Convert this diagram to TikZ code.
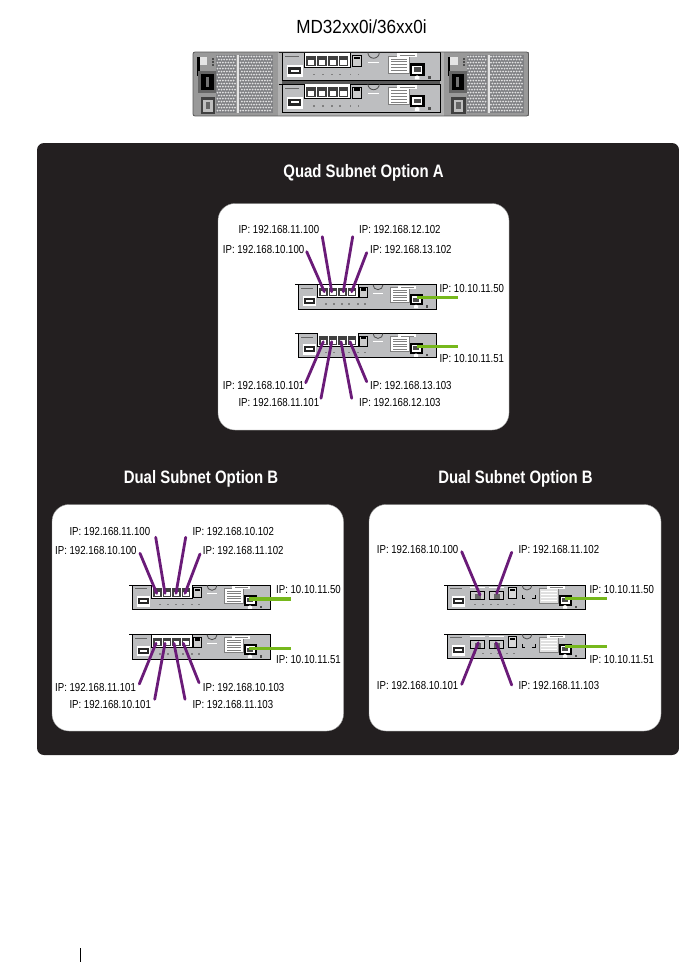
\documentclass[tikz,border=0pt]{standalone}
\usepackage{fontspec}
\usepackage{xcolor}
\usetikzlibrary{calc}
\newfontfamily\labelfont[FakeStretch=0.83]{Liberation Sans}
\newfontfamily\titlefont[FakeStretch=0.90]{Liberation Sans}
\definecolor{panelblack}{HTML}{231F20}
\definecolor{cablepurple}{HTML}{6A1B78}
\definecolor{cablegreen}{HTML}{76B81C}
\definecolor{bodygray}{HTML}{BDBEC0}
\definecolor{ventgray}{HTML}{808184}
\tikzset{
  every pic/.style={transform shape},
  iplabel/.style={anchor=west, inner sep=0pt, text=black, font=\labelfont\fontsize{11.6}{13}\selectfont},
  heading/.style={inner sep=0pt, text=white, font=\labelfont\bfseries\fontsize{18}{20}\selectfont},
  whitepanel/.style={fill=white, draw=black!40, line width=0.4pt, rounded corners=17pt},
  datacable/.style={line width=2.8pt, color=cablepurple, line cap=round},
  mgmtcable/.style={line width=3.4pt, color=cablegreen},
  % controller drawn from the top left corner of its body
  ctrlbody/.pic={
    \fill[bodygray] (0,0) rectangle (138,24.5);
    \draw[black, line width=0.9pt] (-3,0) -- (138,0) -- (138,24.5) -- (0,24.5) -- (0,0);
    % tag
    \draw[black!60, line width=0.8pt] (3,3.5) -- (15,3.5);
    % USB
    \fill[white] (4.5,11) rectangle (18,21.5);
    \fill[black!85] (5.5,13) rectangle (17,19);
    \fill[white] (7.5,15) rectangle (15,17);
    % half round handle
    \draw[black!70, line width=0.8pt] (75,0) arc[start angle=180, end angle=0, radius=5];
    % LED row
    \foreach \x in {27,35,43,50,59,66} {\fill[black!50] (\x,18.5) rectangle +(1.5,1.5);}
    % management block
    \fill[white] (92.5,3) rectangle (111,18);
    \draw[black!50, line width=0.5pt] (92.5,3) rectangle (111,18);
    \foreach \y in {5.5,8,10.5,13,15.5} {\draw[black!50, line width=0.5pt] (95,\y) -- (109,\y);}
    \fill[white] (100,0.8) rectangle (118,4);
    \draw[black!50, line width=0.5pt] (103,2.4) -- (116,2.4);
    % RJ45
    \fill[black] (111.5,9.5) rectangle (124.5,20.5);
    \fill[white] (113.5,11.5) rectangle (122.5,18.5);
    \fill[black!70] (115,13) rectangle (121,17);
    \fill[white] (116,21) -- (118,20) -- (120,21) -- (120,23.5) -- (116,23.5) -- cycle;
    \fill[black!70] (127.5,20.5) rectangle (130,23);
  },
  ctrlquad/.pic={
    \pic {ctrlbody};
    \draw[white, line width=1pt] (75,8.5) -- (85,8.5);
    \fill[white] (19.5,0) rectangle (60,13);
    \draw[black, line width=0.9pt] (19.5,0) -- (19.5,13) -- (60,13) -- (60,0);
    \foreach \x in {21,30.5,40,49.5} {\fill[black!75] (\x,3) rectangle +(8.5,8.5);
      \fill[white] ($(\x,3)+(1.5,3.5)$) rectangle +(5.5,4);}
    % small latch
    \fill[black!20] (61.5,2.5) rectangle (69,12.5);
    \draw[black, line width=0.7pt] (61.5,2.5) rectangle (69,12.5);
    \fill[black] (62.5,3.5) rectangle (68,6);
  },
  ctrldual/.pic={
    \pic {ctrlbody};
    % label corners
    \draw[black, line width=0.7pt] (75,10) -- (75,13) -- (78,13);
    \draw[black, line width=0.7pt] (85,13) -- (88,13) -- (88,10);
    % pale block
    \fill[black!12] (93,3.5) rectangle (110.5,17.5);
    \foreach \y in {6,9,12,15} {\draw[white, line width=0.6pt] (94,\y) -- (110,\y);}
    \foreach \x in {23,42} {\draw[white, line width=1pt] (\x,2.5) -- +(15,0);
      \fill[black] (\x,6) rectangle +(15,8.5);
      \fill[black!20] ($(\x,6)+(1.2,1.2)$) rectangle +(12.6,6.3);
      \fill[black!60] ($(\x,6)+(4.5,3)$) rectangle +(6,5);}
    % small latch
    \fill[black!15] (61.5,2.5) rectangle (69,13.5);
    \draw[black, line width=0.7pt] (61.5,2.5) rectangle (69,13.5);
    \fill[black] (62.5,3.5) rectangle (68,6);
  },
  % power supply of the enclosure
  psupack/.pic={
    \fill[black!40] (0,0) rectangle (85,64);
    \fill[ventgray] (23,3) rectangle (43,61);
    \fill[ventgray] (46,3) rectangle (80,61);
    \foreach \i in {0,...,6} \foreach \j in {0,...,18}
      {\fill[black!12] ({24.5+2.7*\i+1.3*mod(\j,2)},{4.5+3*\j}) circle (1);}
    \foreach \i in {0,...,11} \foreach \j in {0,...,18}
      {\fill[black!12] ({47.5+2.7*\i+1.3*mod(\j,2)},{4.5+3*\j}) circle (1);}
    \fill[black!10] (44,3) rectangle (46,61);
    \fill[black!10] (6,5) rectangle (14,13);
    \fill[black] (4,5) rectangle (6.5,24);
    \foreach \y in {6,9,12} {\fill[black!70] (19,\y) rectangle +(2,1.6);}
    \fill[black!60] (5,19) rectangle (23,41);
    \fill[black] (8,22) rectangle (20.5,38);
    \fill[black!55] (12.5,25) rectangle (15.5,35);
    \fill[black!75] (7.5,45) rectangle (22,62);
    \fill[black!25] (10,47.5) rectangle (19.5,59.5);
    \fill[black!60] (12.5,50) rectangle (17,57);
  },
}
\begin{document}
\begin{tikzpicture}[x=1pt,y=-1pt]
\useasboundingbox (0,0) rectangle (679,962);
% Title and enclosure
\node[inner sep=0pt, font=\titlefont\fontsize{19}{22}\selectfont] (enclosuretitle) at (361.5,27) {MD32xx0i/36xx0i};
\fill[black!30] (193,52) rectangle (528.5,116);
\pic at (193,52) {psupack};
\pic at (443.5,52) {psupack};
\fill[black!65] (282,80) rectangle (440,85);
\pic[scale=1.145] at (282,52.5) {ctrlquad};
\pic[scale=1.145] at (282,84) {ctrlquad};
\draw[black!65, line width=0.8pt, rounded corners=2pt] (193,52) rectangle (528.5,116);
% Dark panel
\fill[panelblack, rounded corners=7pt] (37,143) rectangle (679,755);
\node[heading] (quadtitle) at (363.5,173) {Quad Subnet Option A};
\node[heading] (dualtitleleft) at (201,479) {Dual Subnet Option B};
\node[heading] (dualtitleright) at (515.5,479) {Dual Subnet Option B};
% White panels
\draw[whitepanel] (218,203.5) rectangle (509,430);
\draw[whitepanel] (52,504.5) rectangle (343.5,731);
\draw[whitepanel] (369,504.5) rectangle (661,731);
% Controllers
\pic at (298,284.7) {ctrlquad};
\pic at (298,333.4) {ctrlquad};
\pic at (132,585.3) {ctrlquad};
\pic at (132,634.7) {ctrlquad};
\pic at (447,585) {ctrldual};
\pic at (447,634) {ctrldual};
% Data ports: name/text/label x/label y/free end/port end
\foreach \tagname/\iptext/\lx/\ly/\ex/\ey/\px/\py in {
  qa/192.168.10.100/222.7/249.3/306.7/251.7/324.3/291.7,
  qb/192.168.11.100/238.3/230/322.3/236.7/331.7/291.7,
  qc/192.168.12.102/359/230/352.7/236.7/343.3/291.7,
  qd/192.168.13.102/370/249.3/366.7/252.7/351.7/291.7,
  qe/192.168.10.101/222.7/385.7/305.7/382.7/323.3/341.7,
  qf/192.168.11.101/238.3/402.7/321/398.3/331.7/341.7,
  qg/192.168.12.103/359/402.7/351.7/398.3/341/341.7,
  qh/192.168.13.103/370/385.7/366.7/381.7/350/341.7,
  la/192.168.10.100/55/550.3/140/553.3/156.7/593.3,
  lb/192.168.11.100/69.3/531/155.7/537.3/165/593.3,
  lc/192.168.10.102/192.3/531/185.7/537.3/176/593.3,
  ld/192.168.11.102/202.7/550.3/200/554/185/593.3,
  le/192.168.11.101/55/687/139.3/684/156/643.3,
  lf/192.168.10.101/69.3/704/154.7/699.3/165/643.3,
  lg/192.168.11.103/192.3/704/185/699.3/174/643.3,
  lh/192.168.10.103/202.7/687/199/682.7/183.3/643.3,
  ra/192.168.10.100/376.7/549/461.7/551.7/480/595,
  rb/192.168.11.102/518.3/549/511.7/552.3/496.7/593.3,
  rc/192.168.10.101/376.7/685.7/461.7/684.3/478.3/642.7,
  rd/192.168.11.103/518.3/685.7/511.7/685/496/642.7} {
  \node[iplabel] (ip\tagname) at (\lx,\ly) {IP: \iptext};
  \coordinate (end\tagname) at (\ex,\ey);
  \coordinate (port\tagname) at (\px,\py);
  \draw[datacable] (end\tagname) -- (port\tagname);
}
% Management ports
\foreach \tagname/\iptext/\lx/\ly/\px/\ex/\ey in {
  qm/10.10.11.50/439.3/288.7/416.7/457.7/297.7,
  qn/10.10.11.51/439.3/358.7/416.7/457.7/346.7,
  lm/10.10.11.50/276/589.3/249/290.7/599,
  ln/10.10.11.51/276/659/249/290.7/648.3,
  rm/10.10.11.50/589.3/589/565/606.7/598.3,
  rn/10.10.11.51/589.3/659/565/606.7/646.7} {
  \node[iplabel] (ip\tagname) at (\lx,\ly) {IP: \iptext};
  \coordinate (end\tagname) at (\ex,\ey);
  \coordinate (port\tagname) at (\px,\ey);
  \draw[mgmtcable] (port\tagname) -- (end\tagname);
}
% Page mark
\coordinate (marktop) at (80.3,948);
\coordinate (markbottom) at (80.3,962);
\draw[black, line width=1pt] (marktop) -- (markbottom);
\end{tikzpicture}
\end{document}
